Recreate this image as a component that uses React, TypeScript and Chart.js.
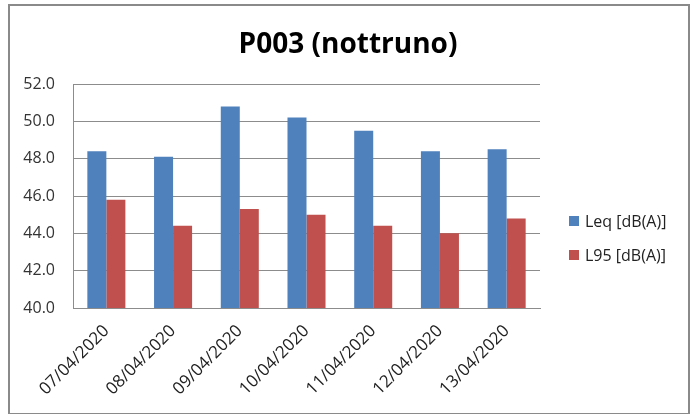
import React, { useEffect, useRef } from "react";
import { Chart, registerables } from "chart.js";

Chart.register(...registerables);

const TITLE = "P003 (nottruno)";
const categories = ["07/04/2020", "08/04/2020", "09/04/2020", "10/04/2020", "11/04/2020", "12/04/2020", "13/04/2020"];
const leqLabel = "Leq [dB(A)]";
const l95Label = "L95 [dB(A)]";
const leqValues = [48.4, 48.1, 50.8, 50.2, 49.5, 48.4, 48.5];
const l95Values = [45.8, 44.4, 45.3, 45.0, 44.4, 44.0, 44.8];
const yMin = 40;
const yMax = 52;
const yStep = 2;

const BLUE = "#4F81BD";
const RED = "#C0504D";
const FONT = "'Open Sans', 'DejaVu Sans', sans-serif";

export default function App() {
  const ref = useRef<HTMLCanvasElement | null>(null);

  useEffect(() => {
    if (!ref.current) return;
    const chart = new Chart(ref.current, {
      type: "bar",
      data: {
        labels: categories,
        datasets: [
          { label: leqLabel, data: leqValues, backgroundColor: BLUE, categoryPercentage: 0.57, barPercentage: 1.0 },
          { label: l95Label, data: l95Values, backgroundColor: RED, categoryPercentage: 0.57, barPercentage: 1.0 },
        ],
      },
      options: {
        responsive: false,
        animation: false,
        layout: { padding: { left: 0, right: 150, top: 84, bottom: 0 } },
        plugins: {
          legend: { display: false },
          tooltip: { enabled: false },
          title: { display: false },
        },
        scales: {
          x: {
            grid: { display: false, drawTicks: false },
            border: { display: true, color: "#8c8c8c", width: 1 },
            ticks: {
              color: "#222",
              font: { family: FONT, size: 17 },
              maxRotation: 45,
              minRotation: 45,
              autoSkip: false,
              padding: 13,
            },
            afterFit: (s: any) => {
              s.height = 106;
            },
          },
          y: {
            min: yMin,
            max: yMax,
            grid: { color: "#8c8c8c", lineWidth: 1, drawTicks: false },
            border: { display: true, color: "#8c8c8c", width: 1 },
            ticks: {
              stepSize: yStep,
              color: "#333",
              font: { family: FONT, size: 16 },
              padding: 18,
              callback: (v: any) => Number(v).toFixed(1),
            },
            afterFit: (s: any) => {
              s.width = 73;
            },
          },
        },
      },
    });
    return () => chart.destroy();
  }, []);

  const legendItems = [
    { label: leqLabel, color: BLUE },
    { label: l95Label, color: RED },
  ];

  return (
    <div style={{ position: "absolute", left: 0, top: 0, width: 690, height: 414, background: "#fff", overflow: "hidden" }}>
      <canvas ref={ref} width={690} height={414} style={{ position: "absolute", left: 0, top: 0, width: 690, height: 414 }} />
      <div
        style={{
          position: "absolute",
          left: 8,
          top: 4,
          width: 678,
          height: 407,
          border: "2px solid #8a8a8a",
          pointerEvents: "none",
        }}
      />
      <div
        style={{
          position: "absolute",
          left: 0,
          width: 696,
          top: 22,
          height: 40,
          lineHeight: "40px",
          textAlign: "center",
          fontFamily: FONT,
          fontWeight: "bold",
          fontSize: 28,
          color: "#000",
          whiteSpace: "nowrap",
        }}
      >
        {TITLE}
      </div>
      {legendItems.map((it, i) => (
        <div
          key={it.label}
          style={{
            position: "absolute",
            left: 569,
            top: 210 + i * 34,
            height: 22,
            display: "flex",
            alignItems: "center",
            fontFamily: FONT,
            fontSize: 16,
            color: "#222",
            whiteSpace: "nowrap",
          }}
        >
          <span style={{ display: "inline-block", width: 10, height: 10, background: it.color, marginRight: 6 }} />
          <span>{it.label}</span>
        </div>
      ))}
    </div>
  );
}
